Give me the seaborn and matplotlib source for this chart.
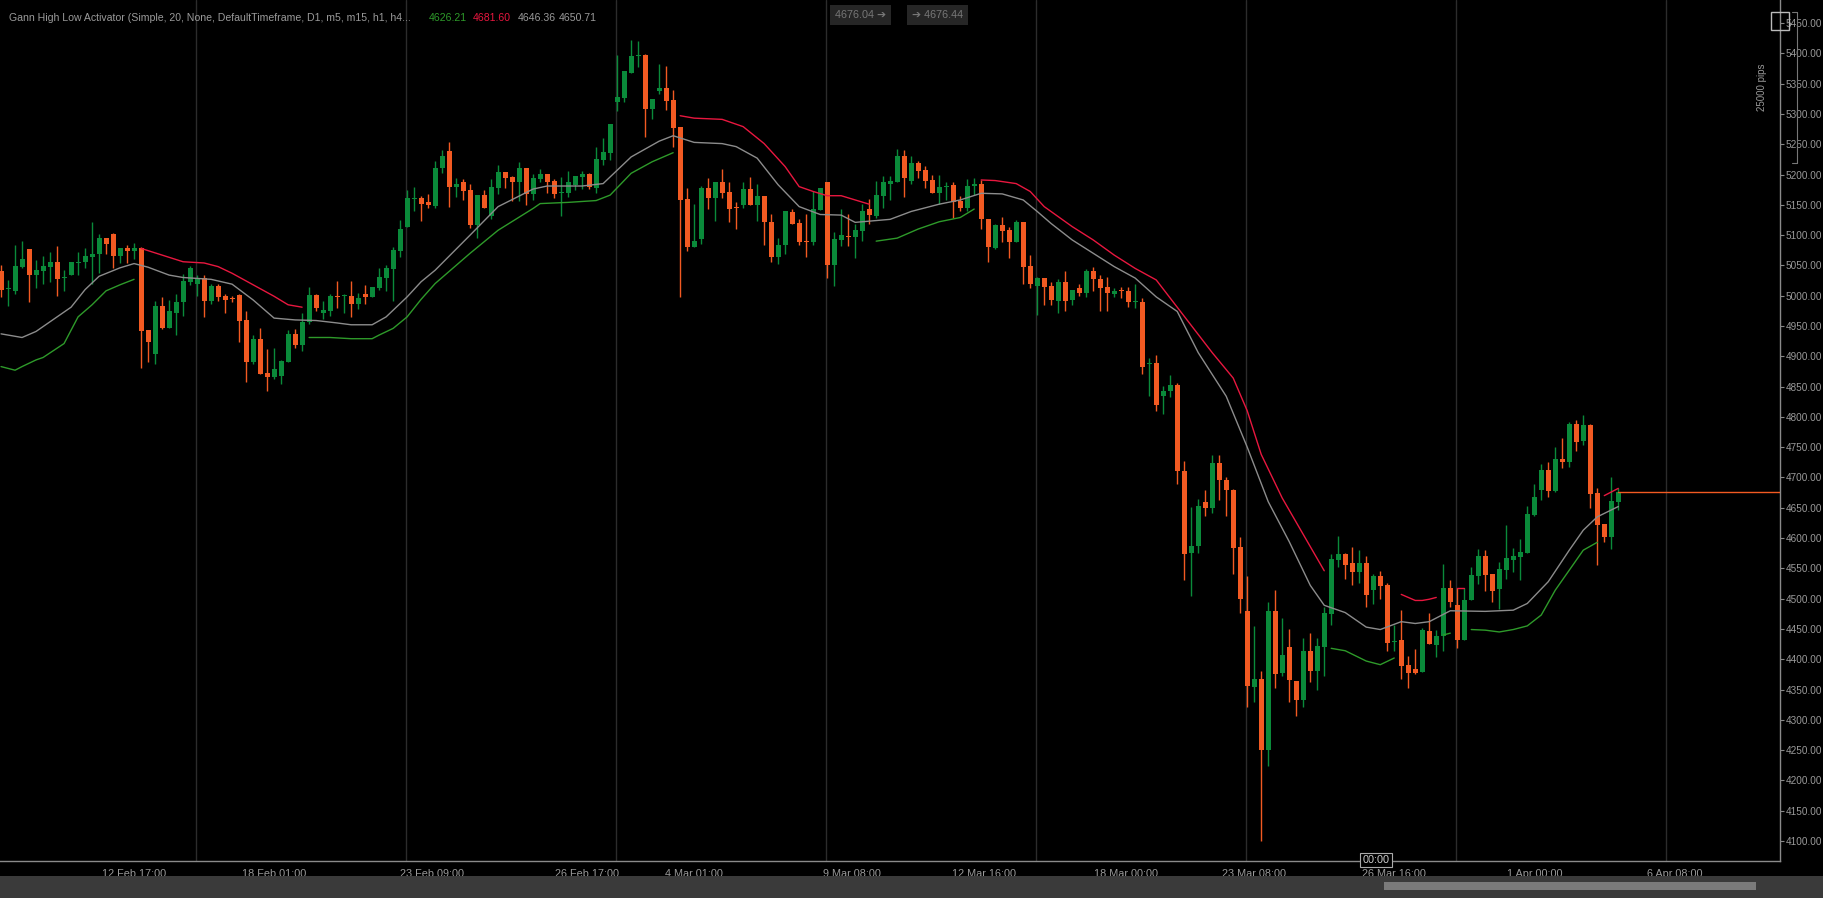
import numpy as np
import pandas as pd
import matplotlib
matplotlib.use("Agg")
import matplotlib.pyplot as plt
from matplotlib import font_manager
import seaborn as sns

# ---------------- data ----------------
opens = [5040,5011,5008,5047,5077,5034,5041,5047,5056,5029,5034,5054,5055,5064,5068,5095,5102,5065,5078,5074,
 5078,4943,4904,4983,4947,4972,4989,5023,5019,5030,4992,5016,4999,4995,5001,4960,4890,4929,4872,4866,
 4868,4891,4937,4919,4956,5001,4971,4975,4998.5,4999,4999,4986,5003,4998,5013,5030,5044,5074,5114,5159,
 5161,5154,5148,5210,5239,5179,5187,5174,5117,5166,5132,5178,5204,5196,5187,5211,5167,5193,5201,5189,
 5169,5170,5183,5196,5201,5178,5224,5236,5320,5326,5368,5396,5398,5308,5337,5343,5323,5278,5160,5081,
 5093,5178,5162,5187,5171,5144.5,5150,5176,5150,5165,5121,5064,5084,5138,5120,5089.5,5088,5141,5188,5051,
 5092,5097.5,5097,5107,5143,5132,5165,5184,5188,5231,5190,5219,5207,5191,5170,5179,5183,5157,5145,5181,
 5184,5127,5078,5117,5108,5089,5122,5049,5016,5029,5016,4992,5022,4993,5012,5005,5041,5028,5015,5003,
 5008.5,5008,4989,4989,4887,4889,4834,4842,4853,4711,4575,4587,4659,4649,4724,4696,4679,4585,4479,4354,
 4368,4251,4479,4377,4420,4364,4333,4414,4380,4420,4475,4564,4574,4558,4544,4558,4514,4538,4523,4428,
 4431,4391,4384,4379,4447,4424,4438,4517,4490,4432,4497,4538,4570,4541,4516,4547,4564,4569,4576,4638,
 4679,4712,4677,4730,4726,4789,4760,4787,4674,4623,4602,4660]
highs = [5051,5026,5084,5090,5077,5059,5066,5072,5082,5043,5056,5072,5078,5122,5102,5095,5103,5079,5084,5087,
 5080,4943,4991,4998,4993,5003,5036,5049,5034,5034,5019,5019,5003,4999,5003,4974,4935,4947,4912,4914,
 4894,4943,4945,4971,5015,5003,4991,5003,5024,5003,5024,5005,5017,5015,5046,5051,5080,5125,5174,5180,
 5165,5168,5223,5240,5254,5194,5193,5184,5166,5174,5193,5215,5204,5198,5221,5211,5201,5209,5201,5193,
 5196,5205,5198,5205,5203,5245,5260,5284,5397,5370,5422,5420,5399,5324,5383,5379,5339,5278,5178,5151,
 5181,5194,5187,5209,5188,5154,5188,5196,5184,5165,5135,5096,5139,5143,5126,5135,5173,5178,5188,5105,
 5143,5135,5118,5151,5160,5189,5198,5198,5242,5241,5231,5222,5214,5200,5199,5187,5187,5165,5192,5194,
 5191,5127,5118,5130,5113,5125,5122,5067,5031,5029,5023,5027,5040,5009,5019,5044,5048,5034,5031,5012,
 5015,5015,5019,4997,4897,4902,4851,4869,4856,4727,4651,4664,4680,4737,4737,4701,4681,4601,4537,4455,
 4380,4495,4514,4468,4450,4364,4435,4444,4435,4486,4573,4604,4576,4586,4580,4570,4541,4546,4525,4457,
 4482,4405,4417,4452,4477,4448,4557,4531,4517,4517,4553,4582,4580,4541,4560,4622,4583,4598,4653,4689,
 4723,4725,4750,4765,4792,4795,4803,4788,4682,4623,4700,4682]
lows = [4998,4983,5003,5046,4989,5013,5019,5022,5000,5007,5034,5034,5046,5020,5037,5069,5046,5054,5054,5060,
 4880,4891,4887,4945,4947,4935,4967,5017,4999,4965,4987,4992,4971,4990,4924,4857,4888,4871,4843,4863,
 4854,4891,4914,4908,4953,4974,4961,4967,4979,4972,4964,4978,4987,4998,5009,5008,4992,5064,5114,5139,
 5124,5144,5144,5203,5147,5163,5158,5111,5095,5144,5127,5168,5178,5157,5157,5149,5158,5187,5170,5161,
 5132,5163,5174,5176,5176,5169,5216,5224,5305,5320,5367,5377,5262,5292,5333,5306,5246,4998,5074,5081,
 5086,5143,5124,5161,5122,5110,5144,5150,5124,5084,5056,5053,5069,5118,5084,5064,5084,5141,5029,5016,
 5082,5082,5063,5090,5119,5128,5144,5158,5187,5163,5185,5195,5178,5169,5151,5158,5128,5139,5139,5166,
 5110,5056,5077,5089,5063,5089,5020,5012,4968,4984,4985,4972,4975,4985,5000,4998,5007,4975,4975,4998,
 4996,4982,4979,4871,4835,4809,4805,4833,4689,4531,4504,4575,4636,4641,4662,4637,4541,4477,4321,4330,
 4100,4223,4352,4372,4330,4306,4321,4363,4350,4373,4456,4552,4533,4522,4526,4487,4491,4500,4413,4414,
 4367,4353,4375,4379,4425,4404,4414,4487,4419,4432,4497,4524,4513,4494,4483,4533,4544,4530,4576,4637,
 4662,4668,4676,4715,4718,4743,4753,4650,4555,4594,4582,4646]
closes = [5009,5011,5049,5061,5034,5043,5049,5055,5028,5029,5056,5055,5066,5069,5095,5085,5065,5079,5074,5078,
 4942,4923,4983,4946,4974,4990,5024,5046,5030,4992,5016,4998,4993,4994,4959,4890,4929,4871,4866,4879,
 4892,4937,4919,4957,5001,4979,4976,4999,4998,4999.5,4986,4997,4998,5015,5031,5046,5075,5110,5161,5160,
 5151,5149,5211,5231,5179,5185,5173,5117,5166,5145,5179,5204,5195,5187,5211,5167,5194,5201,5188,5168,
 5169.5,5187,5198,5201,5179,5225,5237,5283,5328,5370,5396,5397,5308,5324,5343,5322,5277,5158,5081,5090,
 5178,5162,5187,5170,5143,5144,5176,5150,5165,5121,5064,5084,5139,5118,5088,5089,5143,5178,5051,5094,
 5100,5097,5108,5140,5133,5166,5187,5189,5231,5195,5219,5206,5189,5170,5179,5179.5,5155,5145,5181,5184,
 5126,5081,5117,5106,5089,5122,5048,5019,5029,5015,4993,5022,4992,5009,5005,5041,5027,5012,5004,5008,
 5008,4989,4989.5,4883,4887.5,4820,4843,4852,4710,4574,4587,4653,4649,4724,4695,4679,4584,4499,4355,4368,
 4251,4479,4375,4407,4365,4333,4414,4380,4422,4477,4566,4574,4556,4544,4558,4506,4538,4521,4427,4428.5,
 4389,4378,4377,4449,4425,4438,4517,4495,4432,4498,4539,4570,4539,4512,4549,4567,4570,4577,4639,4668,
 4712,4677,4730,4726,4789,4759,4787,4673,4622,4602,4661,4676]

# indicator: middle line (bar index, value)
mid_idx = [0,3,5,7,10,12,14,17,19,21,24,26,30,33,36,39,42,45,48,50,53,55,58,60,62,67,71,76,78,83,86,90,94,96,
           99,103,105,108,111,114,117,120,122,127,130,134,137,140,143,146,148,150,153,156,159,162,165,168,
           171,175,178,181,184,187,189,192,195,197,200,202,204,207,212,216,218,221,224,226,228,231]
mid_val = [4937,4931,4941,4957,4981,5010,5032,5046,5053,5047,5034,5030,5027,5019,4993,4963,4960,4959,4955,4952,
           4952,4965,4998,5023,5042,5100,5147,5176,5181,5181,5185,5229,5255,5264,5253,5251,5246,5227,5183,5147,
           5134,5133,5121,5126,5139,5151,5158,5169,5168,5158,5139,5119,5092,5070,5048,5029,4998,4974,4906,4834,
           4750,4660,4594,4522,4489,4477,4453,4449,4462,4459,4462,4480,4479,4481,4492,4528,4580,4613,4635,4652]
# upper (high) line segments
red_segments = [
    ([20,23,26,29,31,33,36,39,41,43], [5078,5067,5056,5054,5048,5037,5018,4999,4985,4981]),
    ([97,99,103,106,109,112,114,116,118,120,124], [5297,5293,5291,5279,5251,5213,5180,5172,5165,5165,5151]),
    ([140,142,145,147,149,153,156,159,162,165,169,173,176,178,180,183,186,189],
     [5191,5190,5185,5172,5147,5114,5092,5067,5045,5026,4966,4906,4864,4810,4738,4666,4606,4546]),
    ([200,201,202,203,204,205], [4507,4502,4497,4497,4499,4502]),
    ([208,209], [4517,4517]),
    ([229,231], [4670,4682]),
]
# lower (low) line segments
green_segments = [
    ([0,2,3,5,6,9,11,13,15,17,19], [4883,4877,4883,4894,4898,4921,4965,4985,5008,5018,5027]),
    ([44,47,50,53,54,56,58,60,62,67,71,76,77,81,85,87,90,93,96],
     [4931,4931,4929,4929,4935,4946,4965,4994,5020,5070,5108,5144,5152,5154,5157,5166,5202,5221,5236]),
    ([125,128,131,134,137,139], [5090,5095,5110,5122,5129,5143]),
    ([190,192,195,197,199], [4418,4414,4397,4391,4402]),
    ([206,207], [4440,4443]),
    ([210,212,214,216,218,220,222,224,226,228], [4449,4448,4445,4449,4455,4473,4514,4547,4580,4593]),
]
last_price = 4676
x_tick_pos = [19,39,61.5,83.7,99,121.6,140.4,160.7,179,199,219,239]
x_tick_labels = ["12 Feb 17:00","18 Feb 01:00","23 Feb 09:00","26 Feb 17:00","4 Mar 01:00","9 Mar 08:00",
                 "12 Mar 16:00","18 Mar 00:00","23 Mar 08:00","26 Mar 16:00","1 Apr 00:00","6 Apr 08:00"]
grid_pos = [27.8,57.8,87.8,117.8,147.8,177.8,207.8,237.8]
y_ticks = list(range(4100, 5451, 50))

# ---------------- style ----------------
sns.set_theme(style="dark", rc={"axes.facecolor": "#000000", "figure.facecolor": "#000000"})
names = {f.name for f in font_manager.fontManager.ttflist}
NARROW = "Liberation Sans Narrow" if "Liberation Sans Narrow" in names else "Liberation Sans"
plt.rcParams['font.family'] = [NARROW, 'DejaVu Sans']
fs = 8.8 if NARROW == "Liberation Sans Narrow" else 7.8
fs_title = fs - 0.2

BULL = "#0A8A3A"
BEAR = "#F25A22"
TXT = "#9a9a9a"

fig = plt.figure(figsize=(18.24, 8.98), dpi=100)
ax = fig.add_axes([0.0, 37/898, 1780/1824, 1 - 37/898])
ax.set_facecolor("#000000")

n = len(closes)
idx = np.arange(n)
o = np.array(opens, float); c = np.array(closes, float)
h = np.array(highs, float); l = np.array(lows, float)
col = np.where(c >= o, BULL, BEAR)

for g in grid_pos:
    ax.axvline(g, color="#2c2c2c", lw=1, zorder=0)

ax.vlines(idx, l, h, colors=col, lw=1.0, zorder=2)
body_lo = np.minimum(o, c)
body_h = np.maximum(np.abs(c - o), 1.6)
ax.bar(idx, body_h, bottom=body_lo, width=0.72, color=col, linewidth=0, zorder=3)

df_mid = pd.DataFrame({"bar": mid_idx, "value": mid_val})
sns.lineplot(data=df_mid, x="bar", y="value", ax=ax, color="#8c8c8c", lw=1.0, zorder=4)
for xs, ys in red_segments:
    sns.lineplot(x=xs, y=ys, ax=ax, color="#E8173F", lw=1.0, zorder=4)
for xs, ys in green_segments:
    sns.lineplot(x=xs, y=ys, ax=ax, color="#2E9A2A", lw=1.0, zorder=4)

ax.plot([n - 1, 260], [last_price, last_price], color=BEAR, lw=1.0, zorder=4)

ax.set_xlim(-0.15, 254.1)
ax.set_ylim(4067, 5488)
ax.set_xlabel(""); ax.set_ylabel("")
ax.grid(False)

ax.yaxis.tick_right()
ax.set_yticks(y_ticks)
ax.set_yticklabels([f"{v:.2f}" for v in y_ticks])
ax.set_xticks(x_tick_pos)
ax.set_xticklabels(x_tick_labels)
ax.tick_params(axis="x", colors="#888888", labelcolor=TXT, labelsize=fs, length=4, width=0.8, pad=2)
ax.tick_params(axis="y", colors="#888888", labelcolor=TXT, labelsize=fs - 0.6, length=3, width=0.8, pad=1)
for s in ["top", "left"]:
    ax.spines[s].set_visible(False)
for s in ["bottom", "right"]:
    ax.spines[s].set_visible(True)
    ax.spines[s].set_color("#8a8a8a")
    ax.spines[s].set_linewidth(1.0)

# header text
fig.text(9/1824, 1 - 18/898, "Gann High Low Activator (Simple, 20, None, DefaultTimeframe, D1, m5, m15, h1, h4...",
         color=TXT, fontsize=fs_title, va="center", ha="left")
for xpx, t, cc in [(429, "4626.21", "#2E9A2A"), (473, "4681.60", "#E8173F"),
                   (518, "4646.36", TXT), (559, "4650.71", TXT)]:
    fig.text(xpx/1824, 1 - 18/898, t, color=cc, fontsize=fs_title, va="center", ha="left")

# top price boxes
fig.text(835/1824, 1 - 15/898, "4676.04 ➔", color="#777777", fontsize=fs, va="center", ha="left",
         family=[NARROW, "DejaVu Sans"], bbox=dict(boxstyle="square,pad=0.45", fc="#262626", ec="none"))
fig.text(912/1824, 1 - 15/898, "➔ 4676.44", color="#777777", fontsize=fs, va="center", ha="left",
         family=[NARROW, "DejaVu Sans"], bbox=dict(boxstyle="square,pad=0.45", fc="#262626", ec="none"))

# pip scale bracket
fig.text(1762/1824, 1 - 87/898, "25000 pips", color=TXT, fontsize=fs - 0.8, rotation=90, va="center", ha="center")
fig.lines.append(plt.Line2D([1797/1824, 1797/1824], [1 - 12/898, 1 - 163/898], transform=fig.transFigure, color="#777777", lw=0.8))
fig.lines.append(plt.Line2D([1792/1824, 1797/1824], [1 - 12/898, 1 - 12/898], transform=fig.transFigure, color="#777777", lw=0.8))
fig.lines.append(plt.Line2D([1792/1824, 1797/1824], [1 - 163/898, 1 - 163/898], transform=fig.transFigure, color="#777777", lw=0.8))
fig.patches.append(plt.Rectangle((1771/1824, 1 - 30/898), 18/1824, 18/898, transform=fig.transFigure,
                                 fill=False, ec="#bbbbbb", lw=1))

# bottom scrollbar
fig.patches.append(plt.Rectangle((0, 0), 1, 22/898, transform=fig.transFigure, fc="#3a3a3a", ec="none"))
fig.patches.append(plt.Rectangle((1384/1824, 8/898), 372/1824, 8/898, transform=fig.transFigure, fc="#7a7a7a", ec="none"))
fig.text(1376/1824, 1 - 860/898, "00:00", color="#cccccc", fontsize=fs, va="center", ha="center",
         bbox=dict(boxstyle="square,pad=0.2", fc="#000000", ec="#aaaaaa", lw=0.8))

fig.savefig("out.png", dpi=100, facecolor="#000000")
